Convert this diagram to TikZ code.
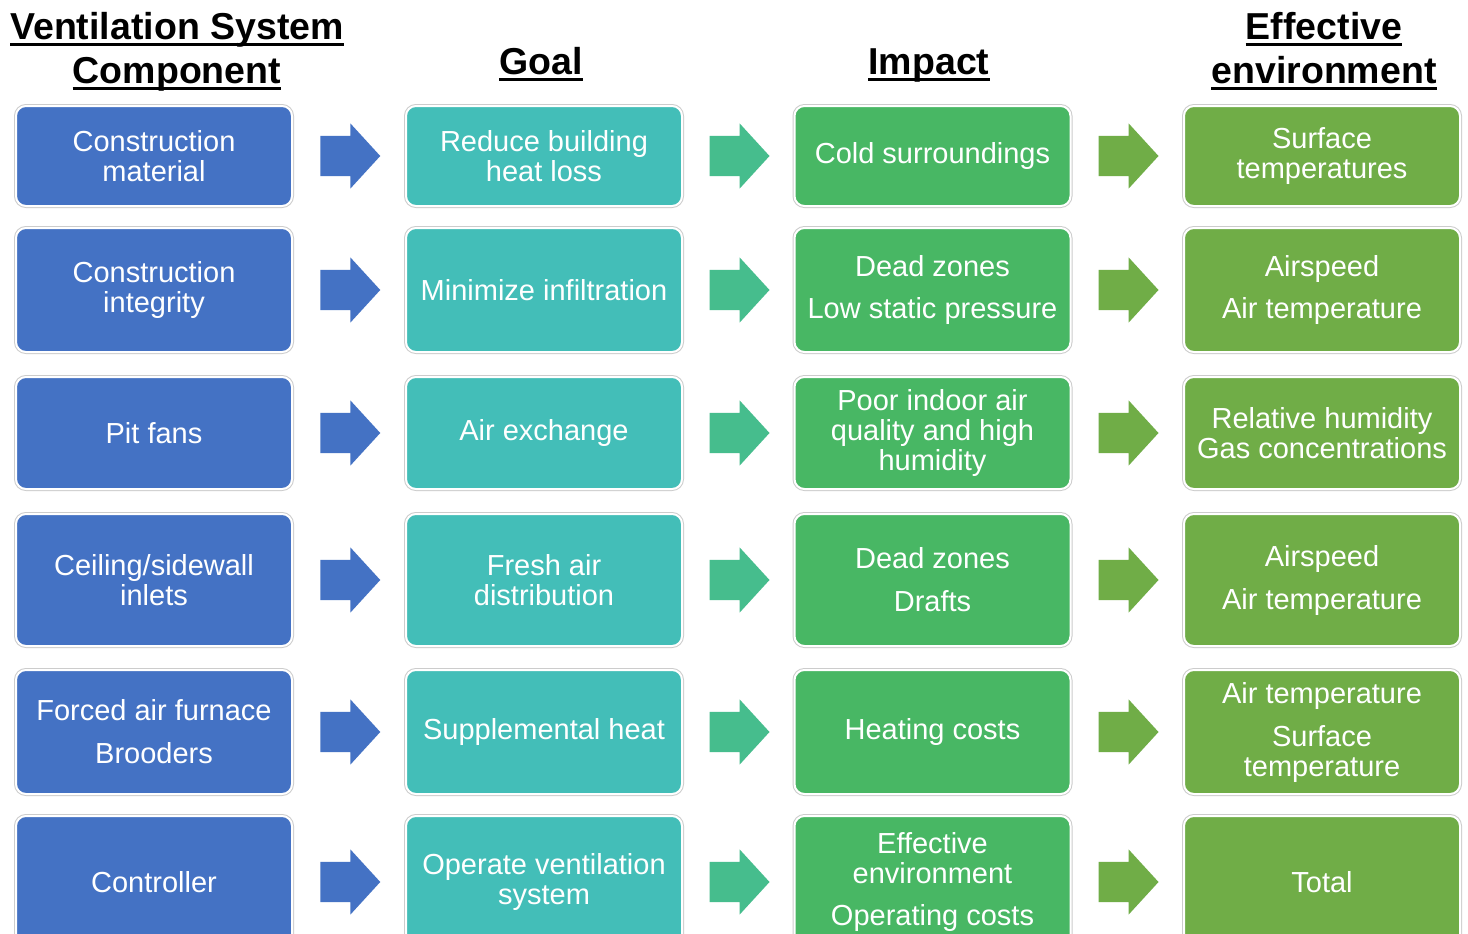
\documentclass[tikz,border=0pt]{standalone}
\usepackage{fontspec}
\setmainfont{Liberation Sans}
\usetikzlibrary{shapes.arrows,calc}
\definecolor{cblue}{HTML}{4472C4}
\definecolor{cteal}{HTML}{43BEB8}
\definecolor{cgreen}{HTML}{48B764}
\definecolor{colive}{HTML}{70AD47}
\definecolor{ateal}{HTML}{46BD8D}
\begin{document}
\begin{tikzpicture}[x=1pt,y=-1pt,
 box/.style={rounded corners=10pt, preaction={draw=black!20, line width=4pt}, draw=white, line width=2pt,
   minimum width=276pt, text=white, align=center, font=\fontsize{29}{30}\selectfont, inner sep=0pt},
 hdr/.style={font=\fontsize{37.5}{40}\selectfont\bfseries, anchor=base, inner sep=0pt},
 arr/.style={single arrow, minimum height=60pt, single arrow head extend=12.5pt,
   single arrow tip angle=95, inner xsep=0pt, inner ysep=20pt, draw=none, xshift=-8pt},
 ul/.style={line width=3pt}
]
\clip (0,0) rectangle (1468,934);
\fill[white] (0,0) rectangle (1468,934);

% headers
\node[hdr] (h1a) at (177,40) {Ventilation System};
\node[hdr] (h1b) at (177,84) {Component};
\node[hdr] (h2) at (541,75) {Goal};
\node[hdr] (h3) at (929,75) {Impact};
\node[hdr] (h4a) at (1324,40) {Effective};
\node[hdr] (h4b) at (1324,84) {environment};
\foreach \n in {h1a,h1b,h2,h3,h4a,h4b}
  \draw[ul] ([yshift=-5pt]\n.base west) -- ([yshift=-5pt]\n.base east);

% row 1
\node[box, fill=cblue,  minimum height=100pt] (a1) at (154,156) {Construction\\material};
\node[box, fill=cteal,  minimum height=100pt] (b1) at (544,156) {Reduce building\\heat loss};
\node[box, fill=cgreen, minimum height=100pt] (c1) at (932.5,156) {Cold surroundings};
\node[box, fill=colive, minimum height=100pt] (d1) at (1322,156) {Surface\\temperatures};
% row 2
\node[box, fill=cblue,  minimum height=124pt] (a2) at (154,290) {Construction\\integrity};
\node[box, fill=cteal,  minimum height=124pt] (b2) at (544,290) {Minimize infiltration};
\node[box, fill=cgreen, minimum height=124pt] (c2) at (932.5,290) {Dead zones\\[13pt]Low static pressure};
\node[box, fill=colive, minimum height=124pt] (d2) at (1322,290) {Airspeed\\[13pt]Air temperature};
% row 3
\node[box, fill=cblue,  minimum height=112pt] (a3) at (154,433) {Pit fans};
\node[box, fill=cteal,  minimum height=112pt] (b3) at (544,433) {Air exchange};
\node[box, fill=cgreen, minimum height=112pt] (c3) at (932.5,433) {Poor indoor air\\quality and high\\humidity};
\node[box, fill=colive, minimum height=112pt] (d3) at (1322,433) {Relative humidity\\Gas concentrations};
% row 4
\node[box, fill=cblue,  minimum height=132pt] (a4) at (154,580) {Ceiling/sidewall\\inlets};
\node[box, fill=cteal,  minimum height=132pt] (b4) at (544,580) {Fresh air\\distribution};
\node[box, fill=cgreen, minimum height=132pt] (c4) at (932.5,580) {Dead zones\\[13pt]Drafts};
\node[box, fill=colive, minimum height=132pt] (d4) at (1322,580) {Airspeed\\[13pt]Air temperature};
% row 5
\node[box, fill=cblue,  minimum height=124pt] (a5) at (154,732) {Forced air furnace\\[13pt]Brooders};
\node[box, fill=cteal,  minimum height=124pt] (b5) at (544,732) {Supplemental heat};
\node[box, fill=cgreen, minimum height=124pt] (c5) at (932.5,732) {Heating costs};
\node[box, fill=colive, minimum height=124pt] (d5) at (1322,732) {Air temperature\\[13pt]Surface\\temperature};
% row 6
\node[box, fill=cblue,  minimum height=132pt] (a6) at (154,882) {Controller};
\node[box, fill=cteal,  minimum height=132pt] (b6) at (544,882) {Operate ventilation\\system};
\node[box, fill=cgreen, minimum height=132pt] (c6) at (932.5,882) {Effective\\environment\\[12pt]Operating costs};
\node[box, fill=colive, minimum height=132pt] (d6) at (1322,882) {Total};

% arrows
\foreach \r in {1,...,6} {
  \node[arr, fill=cblue]  (p\r) at ($(a\r.east)!0.5!(b\r.west)$) {};
  \node[arr, fill=ateal]  (q\r) at ($(b\r.east)!0.5!(c\r.west)$) {};
  \node[arr, fill=colive] (s\r) at ($(c\r.east)!0.5!(d\r.west)$) {};
}
\end{tikzpicture}
\end{document}
